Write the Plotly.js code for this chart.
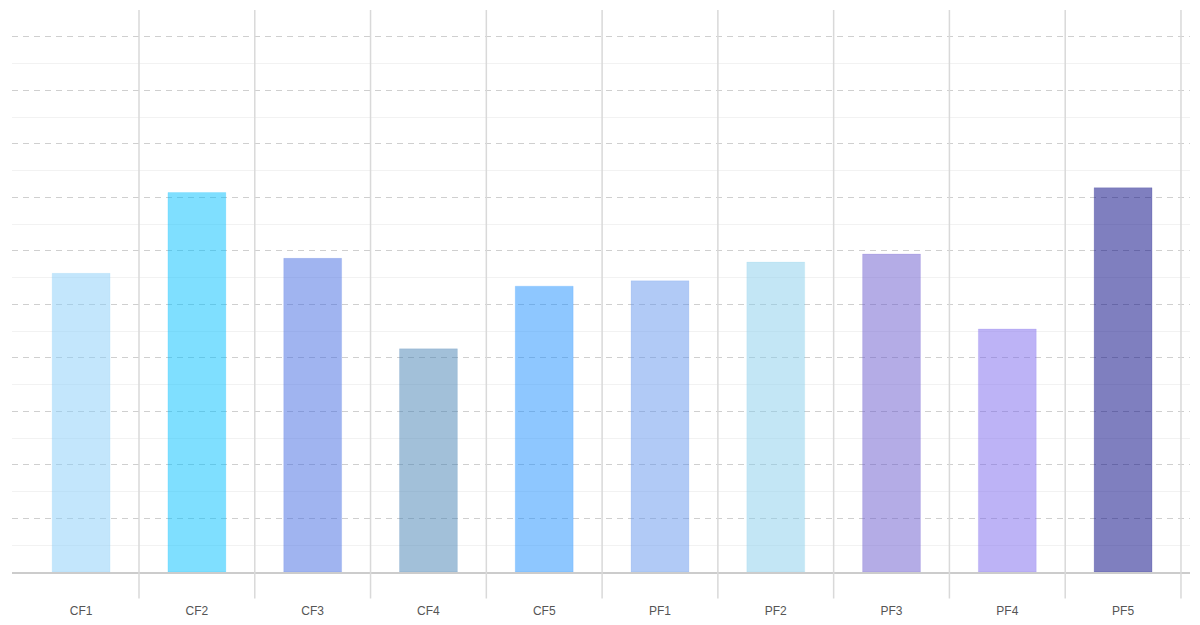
<!DOCTYPE html>
<html>
<head>
<meta charset="utf-8">
<script src="https://cdn.plot.ly/plotly-3.0.1.min.js"></script>
<style>html,body{margin:0;padding:0;background:#fff;}#chart{width:1200px;height:625px;}</style>
</head>
<body>
<div id="chart"></div>
<script>
const categories = ['CF1','CF2','CF3','CF4','CF5','PF1','PF2','PF3','PF4','PF5'];
const values = [55.8, 70.9, 58.6, 41.7, 53.4, 54.4, 57.9, 59.4, 45.4, 71.8];
const barColors = ['#87cefa','#00bfff','#4169e1','#4682b4','#1e90ff','#6495ed','#87ceeb','#6a5acd','#7b68ee','#000080'];

function rgba(hex, a) {
  const n = parseInt(hex.slice(1), 16);
  return 'rgba(' + ((n >> 16) & 255) + ',' + ((n >> 8) & 255) + ',' + (n & 255) + ',' + a + ')';
}

const trace = {
  type: 'bar',
  x: categories,
  y: values,
  width: 0.5,
  marker: {
    color: barColors.map(c => rgba(c, 0.5)),
    line: { color: barColors.map(c => rgba(c, 0.15)), width: 1 }
  },
  hoverinfo: 'x+y'
};

const shapes = [];
for (let i = 0; i < categories.length; i++) {
  shapes.push({
    type: 'line', xref: 'x', yref: 'paper',
    x0: i + 0.5, x1: i + 0.5, y0: -0.047, y1: 1,
    line: { color: '#d9d9d9', width: 1.5 },
    layer: 'above'
  });
}

const layout = {
  width: 1200, height: 625,
  margin: { l: 12, r: 10, t: 10, b: 53 },
  paper_bgcolor: '#fff', plot_bgcolor: '#fff',
  showlegend: false,
  bargap: 0.5,
  xaxis: {
    type: 'category',
    range: [-0.597, 9.578],
    showgrid: false,
    zeroline: false,
    showline: true, linecolor: '#cccccc', linewidth: 1.5,
    ticks: 'outside', ticklen: 27, tickcolor: 'rgba(0,0,0,0)',
    tickfont: { family: 'Liberation Sans, Arial, sans-serif', size: 12, color: '#555555' },
    fixedrange: true
  },
  yaxis: {
    range: [0, 105],
    dtick: 10,
    showticklabels: false,
    ticks: '',
    showgrid: true, gridcolor: '#cfcfcf', gridwidth: 1, griddash: '6px,5px',
    minor: { dtick: 5, showgrid: true, gridcolor: '#f2f2f2', gridwidth: 1, griddash: 'solid' },
    zeroline: false,
    showline: false,
    fixedrange: true
  },
  shapes: shapes
};

Plotly.newPlot('chart', [trace], layout, { displayModeBar: false, staticPlot: true });
</script>
</body>
</html>
